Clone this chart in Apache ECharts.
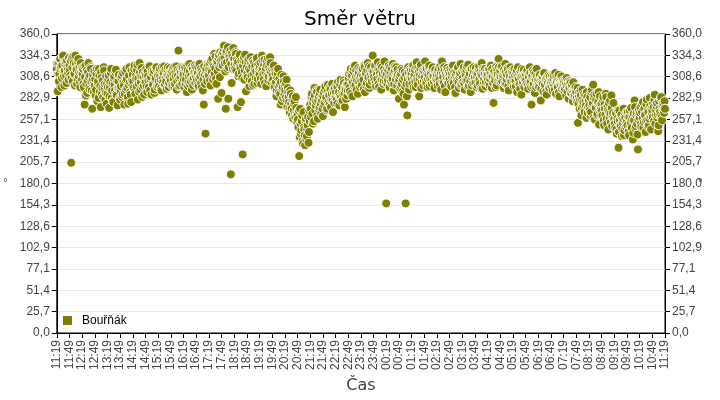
<!DOCTYPE html>
<html>
<head>
<meta charset="utf-8">
<script src="https://cdn.jsdelivr.net/npm/echarts@6/dist/echarts.min.js"></script>
<style>html,body{margin:0;padding:0;background:#fff}#c{width:720px;height:400px}</style>
</head>
<body>
<div id="c"></div>
<script>
// Tick labels: every 30 minutes starting 11:19
const tickLabels = ["11:19","11:49","12:19","12:49","13:19","13:49","14:19","14:49","15:19","15:49","16:19","16:49","17:19","17:49","18:19","18:49","19:19","19:49","20:19","20:49","21:19","21:49","22:19","22:49","23:19","23:49","00:19","00:49","01:19","01:49","02:19","02:49","03:19","03:49","04:19","04:49","05:19","05:49","06:19","06:49","07:19","07:49","08:19","08:49","09:19","09:49","10:19","10:49","11:19"];
const yTickLabels = ["0,0","25,7","51,4","77,1","102,9","128,6","154,3","180,0","205,7","231,4","257,1","282,9","308,6","334,3","360,0"];
const seriesName = "Bouřňák";
// Wind direction (°) at even minutes after 11:19 (each row = 30 min)
const windDirEven = [
318,291,326,312,330,321,307,333,315,298,324,310,328,317,305,
322,310,205,331,303,325,312,334,318,300,327,309,320,296,314,
305,318,296,275,322,300,289,314,308,293,320,302,270,311,290,
298,286,312,279,303,318,291,272,307,295,284,316,300,289,276,
288,305,271,296,313,283,300,278,309,292,317,286,274,303,295,
281,297,310,287,302,275,315,293,306,284,299,320,290,278,304,
311,295,322,288,306,317,281,300,325,293,309,284,314,298,303,
302,318,290,309,296,321,305,287,313,299,316,293,307,320,296,
310,297,318,305,292,314,302,321,299,308,294,316,311,301,319,
304,315,297,312,320,300,309,293,317,340,306,298,314,302,319,
311,296,320,305,290,316,302,324,299,310,293,318,307,313,301,
320,305,313,297,324,309,301,316,292,275,311,240,318,303,322,
310,325,298,318,330,305,321,312,333,300,327,282,335,308,328,
289,330,338,346,325,270,340,318,282,335,328,191,301,332,343,
330,318,336,325,272,309,333,321,278,314,215,328,305,335,291,
320,308,330,297,316,325,303,328,312,300,322,315,331,306,318,
311,326,300,334,318,305,329,314,297,322,331,309,316,325,302,
318,305,322,296,312,285,308,318,290,300,275,311,294,283,303,
298,283,305,272,290,278,265,288,270,281,258,276,263,284,255,
262,248,213,270,240,255,231,266,245,226,258,237,250,229,268,
275,260,288,252,282,295,268,279,290,258,285,272,293,264,280,
261,290,278,297,284,270,299,287,275,293,281,300,266,289,295,
283,298,276,302,290,285,305,279,296,288,301,272,293,299,286,
300,312,291,318,305,285,315,297,322,308,293,311,319,302,296,
310,298,318,305,322,290,313,301,325,308,295,316,320,303,334,
315,304,322,297,311,326,300,317,308,293,320,312,303,327,309,
156,318,305,322,296,313,308,300,324,292,316,310,320,298,311,
282,310,298,318,290,305,275,314,156,300,262,320,293,308,316,
312,300,322,308,317,296,326,305,319,285,311,323,302,314,298,
315,327,303,318,296,311,322,306,313,300,320,309,295,317,305,
310,298,318,305,321,293,327,312,301,316,290,308,319,303,314,
306,318,297,313,322,301,309,289,316,304,320,295,311,324,300,
315,302,320,293,310,317,305,323,298,312,290,318,307,301,314,
308,319,296,313,304,321,300,311,325,294,316,306,318,302,310,
312,300,318,306,322,295,309,277,315,303,320,298,311,330,305,
316,302,321,309,295,313,324,300,311,318,292,307,320,304,314,
309,297,318,303,313,290,320,306,299,315,287,310,302,317,305,
312,300,316,294,308,320,303,275,310,297,314,289,305,318,299,
305,296,311,280,302,309,291,313,299,306,287,303,310,295,300,
301,309,292,306,298,313,288,303,296,311,285,300,307,294,304,
300,291,305,286,297,303,282,295,301,289,298,279,293,287,296,
290,278,253,285,270,292,262,281,275,288,266,279,259,284,272,
280,268,261,290,275,299,283,257,271,288,264,278,251,285,269,
276,262,284,250,270,288,258,273,245,266,280,254,271,260,277,
258,247,265,240,255,223,268,250,261,237,253,270,244,259,248,
255,266,243,260,249,271,257,233,264,280,246,262,252,221,268,
259,272,248,266,278,254,263,242,275,257,269,250,283,261,270,
268,276,255,287,262,273,259,243,279,266,282,260,271,277,265,
270
];
// Wind direction (°) at odd minutes after 11:19 (each row = 30 min)
const windDirOdd = [
325,312,303,329,318,296,322,334,309,316,327,301,320,313,331,
316,328,307,320,333,311,298,324,317,306,330,314,302,325,319,
312,300,321,308,286,316,304,325,297,310,318,292,306,299,315,
306,293,318,301,283,310,297,314,288,304,320,295,281,309,300,
296,310,285,302,318,292,279,306,299,314,288,303,295,311,283,
292,307,284,313,298,288,305,318,295,276,310,302,287,316,298,
303,318,291,309,297,323,306,290,314,302,319,296,308,287,312,
310,297,315,304,322,292,308,316,300,312,289,305,318,298,311,
303,316,309,295,320,306,313,298,317,303,311,320,296,308,314,
311,299,318,306,296,314,321,303,310,297,316,308,320,300,313,
305,318,300,313,322,297,309,315,303,320,306,298,314,322,309,
313,298,320,306,310,318,295,312,305,321,300,315,308,324,312,
318,304,328,314,322,310,336,319,306,325,315,331,320,338,323,
336,322,342,331,315,338,326,344,320,332,340,324,337,318,329,
323,338,316,330,326,312,335,319,328,307,322,332,316,326,310,
312,327,318,305,332,310,321,298,326,317,307,329,301,323,313,
320,306,317,328,312,323,301,319,327,310,304,321,332,314,308,
310,320,300,315,302,292,313,297,306,288,302,279,296,309,287,
292,300,280,295,284,270,292,276,262,285,268,279,260,271,264,
257,268,236,252,244,262,228,248,238,256,233,245,260,242,255,
270,284,264,277,255,286,274,292,262,280,269,288,276,283,270,
285,274,293,282,268,290,278,286,296,272,288,280,292,277,284,
290,281,296,287,274,299,284,292,280,304,289,295,282,300,292,
307,295,314,288,310,302,319,306,298,316,304,288,313,308,318,
304,316,309,294,320,312,298,317,306,321,299,311,307,315,312,
308,320,301,314,306,318,296,312,322,305,310,300,318,314,302,
312,300,316,309,320,302,318,306,313,300,321,305,310,317,303,
305,294,312,300,316,288,308,297,311,285,306,314,300,318,309,
306,317,296,311,303,320,308,299,314,306,318,295,309,316,304,
308,318,300,312,306,320,297,314,304,318,310,302,315,306,312,
304,315,309,300,313,318,303,308,320,297,312,305,316,301,310,
312,301,309,318,304,314,296,311,306,319,302,308,313,298,316,
307,318,300,313,304,321,297,310,316,303,318,298,311,320,306,
301,313,309,298,317,306,315,295,310,318,302,312,297,309,316,
305,316,298,312,309,318,301,314,306,296,312,318,304,320,310,
308,320,303,311,317,300,314,306,319,297,313,309,302,316,308,
313,303,310,297,316,308,301,312,294,309,318,300,311,296,312,
304,315,298,311,302,313,296,308,316,300,306,312,296,309,303,
299,310,304,294,307,300,312,297,305,291,308,301,296,309,303,
297,305,300,310,293,302,308,297,306,290,303,299,309,301,296,
303,294,299,307,291,300,295,303,288,297,292,302,285,294,290,
283,295,276,290,281,286,271,293,278,268,286,274,290,265,280,
274,284,266,293,277,259,287,272,280,262,276,290,268,275,262,
268,281,256,275,263,284,252,268,277,259,264,286,249,265,257,
252,264,245,258,268,242,256,249,263,246,258,238,262,251,266,
250,260,238,268,254,247,262,241,256,272,249,265,239,257,263,
265,252,276,258,247,270,262,255,281,249,266,258,273,245,264,
260,272,281,252,268,277,263,250,270,262,284,256,274,268,279
];
const points = [];
windDirEven.forEach((v, i) => {
  points.push([i * 2, v]);
  if (i < windDirOdd.length) points.push([i * 2 + 1, windDirOdd[i]]);
});

const labelFont = { fontFamily: 'Liberation Sans', fontSize: 12, color: '#444' };
const yStep = 360 / 14;
function yFmt(v) { return yTickLabels[Math.round(v / yStep)]; }
function yAxisCfg(pos, gap) {
  return {
    type: 'value', position: pos, min: 0, max: 360, interval: yStep,
    name: '°', nameLocation: 'middle', nameGap: gap, nameRotate: 0, nameMoveOverlap: false,
    nameTextStyle: { fontFamily: 'Liberation Sans', fontSize: 12, color: '#444' },
    axisLine: { show: true, lineStyle: { color: '#000', width: 1 } },
    axisTick: { show: true, length: 5, lineStyle: { color: '#000' } },
    axisLabel: Object.assign({ formatter: yFmt, margin: 7 }, labelFont),
    splitLine: { show: pos === 'left', lineStyle: { color: '#e8e8e8', width: 1 } }
  };
}
const chart = echarts.init(document.getElementById('c'), null, { renderer: 'canvas' });
chart.setOption({
  animation: false,
  backgroundColor: '#fff',
  title: {
    text: 'Směr větru', left: 'center', top: 5,
    textStyle: { fontFamily: 'DejaVu Sans', fontSize: 20, fontWeight: 'normal', color: '#000' }
  },
  grid: { left: 55, right: 55, top: 34, bottom: 67, show: true, borderColor: '#000', borderWidth: 1, containLabel: false },
  legend: {
    left: 61, top: 314, padding: 0, itemWidth: 11, itemHeight: 11, icon: 'rect',
    data: [seriesName],
    textStyle: { fontFamily: 'Liberation Sans', fontSize: 12, color: '#000', padding: [0, 0, 0, 4] }
  },
  xAxis: {
    type: 'value', min: 0, max: 1440, interval: 30,
    name: 'Čas', nameLocation: 'middle', nameGap: 45, nameMoveOverlap: false,
    nameTextStyle: { fontFamily: 'DejaVu Sans', fontSize: 16, color: '#444' },
    axisLine: { show: true, lineStyle: { color: '#000' } },
    axisTick: { show: true, length: 5, lineStyle: { color: '#000' } },
    axisLabel: Object.assign({ rotate: 90, margin: 7, formatter: v => tickLabels[Math.round(v / 30)] }, labelFont),
    splitLine: { show: false }
  },
  yAxis: [yAxisCfg('left', 49), yAxisCfg('right', 33)],
  series: [{
    name: seriesName, type: 'scatter', data: points, symbol: 'circle', symbolSize: 9,
    itemStyle: { color: '#808000', borderColor: '#fff', borderWidth: 1, opacity: 1 }
  }]
});
</script>
</body>
</html>
